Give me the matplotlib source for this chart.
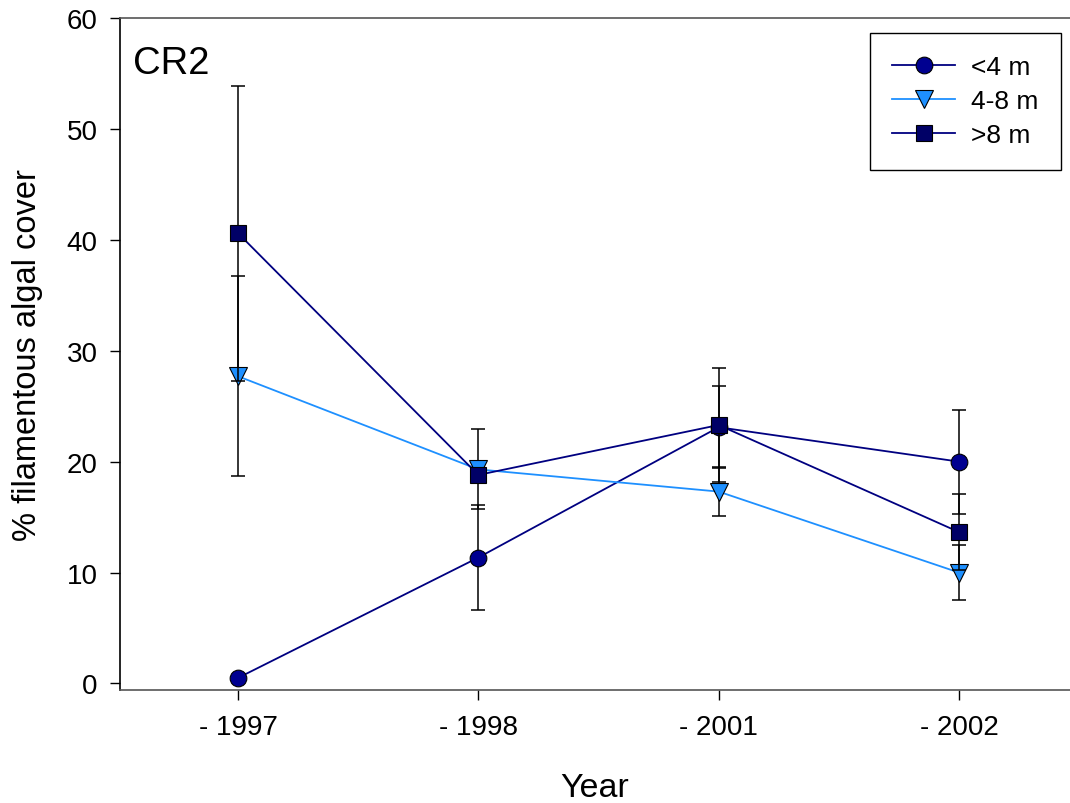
import numpy as np
from matplotlib import pyplot as plt

plt.rcParams["font.family"] = ["Liberation Sans", "DejaVu Sans"]

# Дані
years = ["- 1997", "- 1998", "- 2001", "- 2002"]
shallow = [0.5, 11.35, 23.1, 20.0]      # <4 m
shallow_err = [0.0, 4.7, 3.7, 4.7]
middle = [27.7, 19.3, 17.3, 10.0]       # 4-8 m
middle_err = [9.0, 3.6, 2.2, 2.45]
deep = [40.6, 18.8, 23.3, 13.65]        # >8 m
deep_err = [13.3, 0.3, 5.1, 3.45]

fig = plt.figure(figsize=(10.7, 8.04), dpi=100)
ax = fig.add_axes([120 / 1070, 113 / 804, 950 / 1070, 672 / 804])

x = np.arange(len(years))

series = [
    (shallow, shallow_err, "o", "#000080", "#000090", 12, "<4 m"),
    (middle, middle_err, "v", "#1E90FF", "#1E90FF", 12.5, "4-8 m"),
    (deep, deep_err, "s", "#000080", "#000066", 11.5, ">8 m"),
]
for i, (y, err, m, lc, fc, ms, lab) in enumerate(series):
    # Похибки малюємо окремо, щоб маркери були поверх
    ax.errorbar(x, y, yerr=err, fmt="none", ecolor="black", elinewidth=1.1,
                capsize=4.7, capthick=1.1, zorder=2 + i * 2)
    ax.plot(x, y, "-", color=lc, lw=1.3, marker=m, markersize=ms,
            markerfacecolor=fc, markeredgecolor="black", markeredgewidth=0.8,
            label=lab, zorder=3 + i * 2)

ax.set_xlim(-0.491, 3.462)
ax.set_ylim(-0.59, 60)
ax.set_xticks(x)
ax.set_xticklabels(years, fontsize=20)
ax.set_yticks(np.arange(0, 61, 10))
ax.tick_params(axis="y", labelsize=20, length=7.2, width=1, pad=9,
               direction="out")
ax.tick_params(axis="x", length=7.2, width=1, pad=10, direction="out")

ax.spines["right"].set_visible(False)
ax.spines["left"].set_color("black")
ax.spines["top"].set_color("#555555")
ax.spines["bottom"].set_color("#555555")
for s in ["left", "top", "bottom"]:
    ax.spines[s].set_linewidth(1.2)

ax.set_xlabel("Year", fontsize=24.5, labelpad=23)
ax.set_ylabel("% filamentous algal cover", fontsize=23.5, labelpad=17)

ax.text(0.0137, 0.918, "CR2", transform=ax.transAxes, fontsize=27.5,
        va="baseline", ha="left")

leg = ax.legend(loc="upper right", bbox_to_anchor=(0.9905, 0.9777),
                borderaxespad=0, fontsize=19, handlelength=2.4,
                handletextpad=0.6, labelspacing=0.38, borderpad=0.85,
                fancybox=False, framealpha=1, edgecolor="black")
leg.get_frame().set_linewidth(1.0)

plt.savefig("out.png", dpi=100)
